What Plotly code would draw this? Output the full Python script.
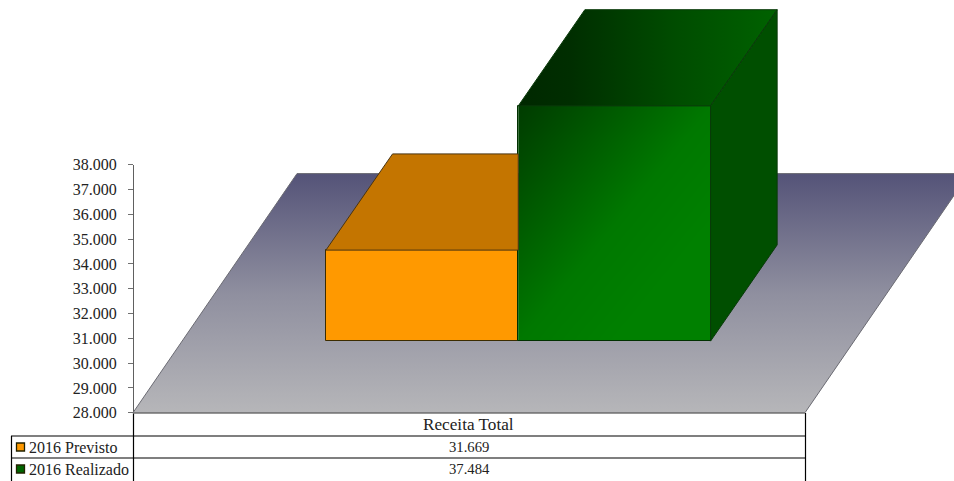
import numpy as np
import plotly.graph_objects as go

# ---- data ----
category = "Receita Total"
series_names = ["2016 Previsto", "2016 Realizado"]
values = [31669, 37484]
value_labels = ["31.669", "37.484"]
tick_values = [28000, 29000, 30000, 31000, 32000, 33000, 34000, 35000, 36000, 37000, 38000]
tick_labels = ["28.000", "29.000", "30.000", "31.000", "32.000", "33.000", "34.000", "35.000", "36.000", "37.000", "38.000"]

# ---- geometry of the fake 3D scene ----
W, H = 954, 481
Y_BASE_PX, Y_TOP_PX = 412.7, 164.7
Y_MIN, Y_MAX = tick_values[0], tick_values[-1]
PX_PER_UNIT = (Y_BASE_PX - Y_TOP_PX) / (Y_MAX - Y_MIN)
X_ORIGIN_PX, X_UNIT_PX = 422.1, 192.3


def y_of(px):
    return Y_MIN + (Y_BASE_PX - px) / PX_PER_UNIT


def x_of(px):
    return (px - X_ORIGIN_PX) / X_UNIT_PX


def paper_y(px):
    return 1 - px / H


DEPTH_X = 66.6 / X_UNIT_PX
DEPTH_Y = 96.2 / PX_PER_UNIT
BAR_FLOOR = y_of(341.1)
FLOOR_L, FLOOR_R = x_of(133), x_of(805)
FLOOR_BACK = y_of(173.6)
FLOOR_DX = 164 / X_UNIT_PX

FONT = "Liberation Serif"
TXT = "#222222"

fig = go.Figure()

# carries the tick axis
fig.add_trace(go.Scatter(x=[FLOOR_L, FLOOR_L], y=[Y_MIN, Y_MAX], mode="lines", line=dict(width=0),
                         opacity=0, hoverinfo="skip", showlegend=False, xaxis="x", yaxis="y"))

# floor
fig.add_trace(go.Scatter(
    x=[FLOOR_L, FLOOR_R, FLOOR_R + FLOOR_DX, FLOOR_L + FLOOR_DX, FLOOR_L],
    y=[Y_MIN, Y_MIN, FLOOR_BACK, FLOOR_BACK, Y_MIN],
    mode="lines", fill="toself", line=dict(color="#6a6a72", width=1),
    fillgradient=dict(type="vertical",
                      colorscale=[[0, "#b6b6b9"], [0.5, "#8f8f9f"], [1, "#545378"]]),
    hoverinfo="skip", showlegend=False, xaxis="x", yaxis="y2"))

# green front face shading
h_val = values[1] - Y_MIN
xe = np.linspace(0.5, 1.5, 49)
ye = np.linspace(BAR_FLOOR, BAR_FLOOR + h_val, 49)
xc = (xe[:-1] + xe[1:]) / 2 - 0.5
yc = 1 - ((ye[:-1] + ye[1:]) / 2 - BAR_FLOOR) / h_val
shade = (xc[None, :] + yc[:, None]) / 2
fig.add_trace(go.Heatmap(
    x=xe, y=ye, z=shade, zmin=0, zmax=1, zsmooth="best", showscale=False, hoverinfo="skip",
    colorscale=[[0, "#003c00"], [0.25, "#005a00"], [0.5, "#007800"], [0.75, "#008000"], [1, "#008000"]],
    xaxis="x", yaxis="y3"))

# front faces, from the values
fig.add_trace(go.Bar(
    x=[0, 1], y=[v - Y_MIN for v in values], base=[BAR_FLOOR, BAR_FLOOR], width=1,
    marker=dict(color=["#ff9900", "rgba(0,0,0,0)"],
                line=dict(color=["#3c2c00", "#003000"], width=1)),
    hoverinfo="skip", showlegend=False, xaxis="x", yaxis="y3"))

# orange top (stops at the green front face)
t0 = BAR_FLOOR + values[0] - Y_MIN
fig.add_trace(go.Scatter(
    x=[-0.5, -0.5 + DEPTH_X, 0.5, 0.5, -0.5],
    y=[t0, t0 + DEPTH_Y, t0 + DEPTH_Y, t0, t0],
    mode="lines", fill="toself", fillcolor="#c47500", line=dict(color="#4a3410", width=1),
    hoverinfo="skip", showlegend=False, xaxis="x", yaxis="y3"))

# green top and side
t1 = BAR_FLOOR + values[1] - Y_MIN
fig.add_trace(go.Scatter(
    x=[0.5, 0.5 + DEPTH_X, 1.5 + DEPTH_X, 1.5, 0.5],
    y=[t1, t1 + DEPTH_Y, t1 + DEPTH_Y, t1, t1],
    mode="lines", fill="toself", line=dict(color="#0a3a0a", width=1),
    fillgradient=dict(type="horizontal",
                      colorscale=[[0, "#002800"], [0.2, "#002e00"], [0.6, "#004c00"], [1, "#006200"]]),
    hoverinfo="skip", showlegend=False, xaxis="x", yaxis="y3"))
fig.add_trace(go.Scatter(
    x=[1.5, 1.5 + DEPTH_X, 1.5 + DEPTH_X, 1.5, 1.5],
    y=[BAR_FLOOR, BAR_FLOOR + DEPTH_Y, t1 + DEPTH_Y, t1, BAR_FLOOR],
    mode="lines", fill="toself", fillcolor="#004f00", line=dict(color="#0a3a0a", width=1),
    hoverinfo="skip", showlegend=False, xaxis="x", yaxis="y3"))


# ---- data table under the plot ----
def hline(px, x0, x1, color="#000000", width=1.2):
    return dict(type="line", xref="paper", yref="paper", x0=x0 / W, x1=x1 / W,
                y0=paper_y(px), y1=paper_y(px), line=dict(color=color, width=width))


def vline(px, y0, y1, color="#000000", width=1.2):
    return dict(type="line", xref="paper", yref="paper", x0=px / W, x1=px / W,
                y0=paper_y(y0), y1=paper_y(y1), line=dict(color=color, width=width))


swatch_colors = ["#ff9900", "#006400"]
rows_px = [447, 469]
shapes = [hline(436, 11, 805), hline(458, 11, 805), vline(133.5, 413, 481), vline(805.5, 413, 481),
          vline(11.5, 436, 481), hline(413, 133, 805, color="#7c7c7c", width=1.6)]
for c, r in zip(swatch_colors, rows_px):
    shapes.append(dict(type="rect", xref="paper", yref="paper", x0=16.5 / W, x1=24.5 / W,
                       y0=paper_y(r + 4), y1=paper_y(r - 4), fillcolor=c,
                       line=dict(color="#222200", width=1.3)))

annotations = [dict(text=category, x=468.5 / W, y=paper_y(424.5), xref="paper", yref="paper",
                    showarrow=False, xanchor="center", yanchor="middle",
                    font=dict(family=FONT, size=17.2, color=TXT))]
for name, lab, r in zip(series_names, value_labels, rows_px):
    annotations.append(dict(text=name, x=27 / W, y=paper_y(r), xref="paper", yref="paper",
                            showarrow=False, xanchor="left", yanchor="middle",
                            font=dict(family=FONT, size=16, color=TXT)))
    annotations.append(dict(text=lab, x=469 / W, y=paper_y(r), xref="paper", yref="paper",
                            showarrow=False, xanchor="center", yanchor="middle",
                            font=dict(family=FONT, size=14.7, color=TXT)))

hidden = dict(visible=False, domain=[0, 1], anchor="x", range=[y_of(H), y_of(0)], automargin=False)
fig.update_layout(
    width=W, height=H, margin=dict(l=0, r=0, t=0, b=0),
    paper_bgcolor="#ffffff", plot_bgcolor="rgba(0,0,0,0)", showlegend=False, bargap=0,
    xaxis=dict(visible=False, domain=[0, 1], range=[x_of(0), x_of(W)], anchor="y2", automargin=False),
    yaxis=dict(domain=[paper_y(Y_BASE_PX), paper_y(Y_TOP_PX)], range=[Y_MIN, Y_MAX],
               anchor="free", position=133 / W, side="left", automargin=False,
               tickmode="array", tickvals=tick_values, ticktext=tick_labels,
               ticks="outside", ticklen=5, tickcolor="#707070", tickwidth=1,
               showline=True, linecolor="#606060", linewidth=1, showgrid=False, zeroline=False,
               ticklabelstandoff=8, tickfont=dict(family=FONT, size=16, color=TXT)),
    yaxis2=hidden,
    yaxis3=hidden,
    shapes=shapes,
    annotations=annotations,
)

fig.write_html("out.html", config=dict(displayModeBar=False),
               post_script="document.body.style.margin='0';document.documentElement.style.overflow='hidden';")
